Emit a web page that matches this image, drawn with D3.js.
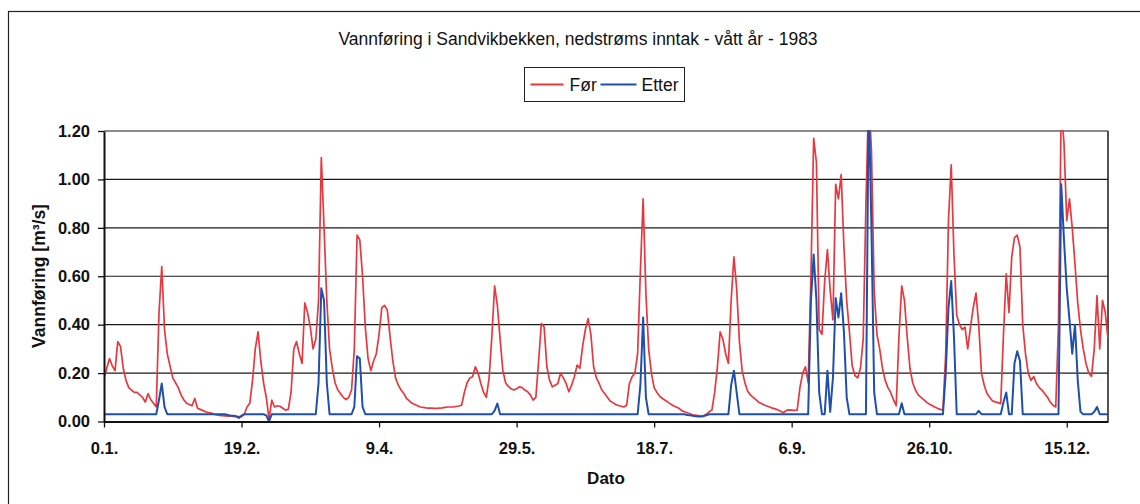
<!DOCTYPE html>
<html>
<head>
<meta charset="utf-8">
<script src="https://cdn.jsdelivr.net/npm/d3@7"></script>
<style>
  html, body { margin: 0; padding: 0; background: #fff; }
  svg { display: block; font-family: "Liberation Sans", Arial, sans-serif; }
</style>
</head>
<body>
<svg id="chart" width="1140" height="504"></svg>
<script>
const title = 'Vannføring i Sandvikbekken, nedstrøms inntak - vått år - 1983';
const seriesNames = ['Før', 'Etter'];
const yTitle = 'Vannføring [m³/s]';
const xTitle = 'Dato';
const xTickDays = [0, 50, 100, 150, 200, 250, 300, 350];
const xTickLabels = ['0.1.', '19.2.', '9.4.', '29.5.', '18.7.', '6.9.', '26.10.', '15.12.'];
const yTicks = [0, 0.2, 0.4, 0.6, 0.8, 1.0, 1.2];

// daily discharge, day 0 .. 365
const foer = [
  0.18, 0.22, 0.26, 0.23, 0.21, 0.33, 0.31, 0.22, 0.17, 0.14,
  0.13, 0.12, 0.12, 0.11, 0.10, 0.08, 0.115, 0.09, 0.075, 0.06,
  0.45, 0.64, 0.38, 0.28, 0.23, 0.18, 0.16, 0.14, 0.11, 0.09,
  0.075, 0.07, 0.065, 0.095, 0.055, 0.05, 0.045, 0.04, 0.037, 0.035,
  0.03, 0.027, 0.025, 0.024, 0.023, 0.022, 0.022, 0.021, 0.02, 0.02,
  0.02, 0.03, 0.06, 0.075, 0.17, 0.30, 0.37, 0.25, 0.16, 0.10,
  0.01, 0.088, 0.06, 0.065, 0.063, 0.055, 0.047, 0.05, 0.12, 0.30,
  0.33, 0.28, 0.24, 0.49, 0.45, 0.39, 0.30, 0.34, 0.50, 1.09,
  0.80, 0.50, 0.30, 0.22, 0.16, 0.13, 0.115, 0.10, 0.09, 0.10,
  0.13, 0.30, 0.77, 0.75, 0.60, 0.39, 0.26, 0.21, 0.25, 0.28,
  0.36, 0.47, 0.48, 0.46, 0.35, 0.25, 0.18, 0.15, 0.13, 0.116,
  0.095, 0.085, 0.075, 0.07, 0.065, 0.06, 0.058, 0.056, 0.055, 0.055,
  0.054, 0.054, 0.055, 0.056, 0.058, 0.06, 0.06, 0.06, 0.062, 0.064,
  0.067, 0.12, 0.16, 0.18, 0.185, 0.226, 0.20, 0.157, 0.12, 0.10,
  0.18, 0.35, 0.56, 0.48, 0.34, 0.21, 0.16, 0.145, 0.135, 0.13,
  0.135, 0.143, 0.14, 0.13, 0.123, 0.11, 0.088, 0.10, 0.25, 0.405,
  0.39, 0.226, 0.17, 0.143, 0.15, 0.157, 0.20, 0.18, 0.157, 0.123,
  0.15, 0.185, 0.233, 0.22, 0.31, 0.38, 0.425, 0.36, 0.226, 0.18,
  0.157, 0.13, 0.116, 0.10, 0.085, 0.078, 0.07, 0.066, 0.063, 0.06,
  0.067, 0.157, 0.185, 0.20, 0.28, 0.62, 0.92, 0.53, 0.30, 0.20,
  0.14, 0.12, 0.105, 0.095, 0.088, 0.08, 0.072, 0.065, 0.06, 0.055,
  0.045, 0.04, 0.036, 0.032, 0.028, 0.026, 0.024, 0.022, 0.025, 0.03,
  0.04, 0.047, 0.12, 0.226, 0.37, 0.34, 0.28, 0.24, 0.50, 0.68,
  0.55, 0.33, 0.21, 0.16, 0.125, 0.11, 0.10, 0.09, 0.08, 0.074,
  0.068, 0.064, 0.06, 0.055, 0.052, 0.048, 0.042, 0.036, 0.045, 0.048,
  0.047, 0.046, 0.047, 0.14, 0.20, 0.226, 0.16, 0.60, 1.17, 1.07,
  0.38, 0.36, 0.58, 0.71, 0.54, 0.42, 0.98, 0.92, 1.02, 0.72,
  0.50, 0.37, 0.23, 0.19, 0.18, 0.22, 0.34, 0.90, 1.35, 1.12,
  0.54, 0.36, 0.30, 0.22, 0.17, 0.14, 0.12, 0.09, 0.065, 0.35,
  0.56, 0.50, 0.35, 0.22, 0.16, 0.13, 0.11, 0.10, 0.09, 0.08,
  0.072, 0.066, 0.06, 0.055, 0.05, 0.047, 0.28, 0.83, 1.06, 0.69,
  0.44, 0.40, 0.38, 0.39, 0.30, 0.39, 0.47, 0.53, 0.40, 0.20,
  0.15, 0.116, 0.10, 0.085, 0.081, 0.078, 0.074, 0.36, 0.61, 0.45,
  0.68, 0.76, 0.77, 0.72, 0.40, 0.28, 0.20, 0.17, 0.186, 0.157,
  0.14, 0.13, 0.115, 0.10, 0.08, 0.067, 0.06, 0.40, 1.30, 1.15,
  0.83, 0.92, 0.80, 0.65, 0.49, 0.38, 0.30, 0.24, 0.20, 0.186,
  0.30, 0.52, 0.30, 0.50, 0.45, 0.34
];

const etter = [
  0.03, 0.03, 0.03, 0.03, 0.03, 0.03, 0.03, 0.03, 0.03, 0.03,
  0.03, 0.03, 0.03, 0.03, 0.03, 0.03, 0.03, 0.03, 0.03, 0.03,
  0.09, 0.157, 0.06, 0.03, 0.03, 0.03, 0.03, 0.03, 0.03, 0.03,
  0.03, 0.03, 0.03, 0.03, 0.03, 0.03, 0.03, 0.03, 0.03, 0.03,
  0.03, 0.03, 0.03, 0.03, 0.03, 0.027, 0.025, 0.024, 0.022, 0.015,
  0.024, 0.03, 0.03, 0.03, 0.03, 0.03, 0.03, 0.03, 0.03, 0.025,
  0.0, 0.03, 0.03, 0.03, 0.03, 0.03, 0.03, 0.03, 0.03, 0.03,
  0.03, 0.03, 0.03, 0.03, 0.03, 0.03, 0.03, 0.03, 0.16, 0.55,
  0.50, 0.16, 0.03, 0.03, 0.03, 0.03, 0.03, 0.03, 0.03, 0.03,
  0.03, 0.06, 0.27, 0.26, 0.06, 0.03, 0.03, 0.03, 0.03, 0.03,
  0.03, 0.03, 0.03, 0.03, 0.03, 0.03, 0.03, 0.03, 0.03, 0.03,
  0.03, 0.03, 0.03, 0.03, 0.03, 0.03, 0.03, 0.03, 0.03, 0.03,
  0.03, 0.03, 0.03, 0.03, 0.03, 0.03, 0.03, 0.03, 0.03, 0.03,
  0.03, 0.03, 0.03, 0.03, 0.03, 0.03, 0.03, 0.03, 0.03, 0.03,
  0.03, 0.03, 0.045, 0.074, 0.03, 0.03, 0.03, 0.03, 0.03, 0.03,
  0.03, 0.03, 0.03, 0.03, 0.03, 0.03, 0.03, 0.03, 0.03, 0.03,
  0.03, 0.03, 0.03, 0.03, 0.03, 0.03, 0.03, 0.03, 0.03, 0.03,
  0.03, 0.03, 0.03, 0.03, 0.03, 0.03, 0.03, 0.03, 0.03, 0.03,
  0.03, 0.03, 0.03, 0.03, 0.03, 0.03, 0.03, 0.03, 0.03, 0.03,
  0.03, 0.03, 0.03, 0.03, 0.03, 0.15, 0.43, 0.10, 0.03, 0.03,
  0.03, 0.03, 0.03, 0.03, 0.03, 0.03, 0.03, 0.03, 0.03, 0.03,
  0.03, 0.03, 0.027, 0.026, 0.024, 0.022, 0.021, 0.021, 0.022, 0.026,
  0.03, 0.03, 0.03, 0.03, 0.03, 0.03, 0.03, 0.03, 0.15, 0.21,
  0.12, 0.03, 0.03, 0.03, 0.03, 0.03, 0.03, 0.03, 0.03, 0.03,
  0.03, 0.03, 0.03, 0.03, 0.03, 0.03, 0.03, 0.03, 0.03, 0.03,
  0.03, 0.03, 0.03, 0.03, 0.03, 0.03, 0.03, 0.50, 0.69, 0.50,
  0.12, 0.03, 0.03, 0.21, 0.04, 0.18, 0.51, 0.43, 0.53, 0.37,
  0.10, 0.03, 0.03, 0.03, 0.03, 0.03, 0.03, 0.03, 1.35, 0.80,
  0.12, 0.03, 0.03, 0.03, 0.03, 0.03, 0.03, 0.03, 0.03, 0.03,
  0.075, 0.03, 0.03, 0.03, 0.03, 0.03, 0.03, 0.03, 0.03, 0.03,
  0.03, 0.03, 0.03, 0.03, 0.03, 0.03, 0.20, 0.47, 0.58, 0.35,
  0.03, 0.03, 0.03, 0.03, 0.03, 0.03, 0.03, 0.03, 0.044, 0.03,
  0.03, 0.03, 0.03, 0.03, 0.03, 0.03, 0.03, 0.08, 0.12, 0.03,
  0.03, 0.24, 0.29, 0.25, 0.03, 0.03, 0.03, 0.03, 0.03, 0.03,
  0.03, 0.03, 0.03, 0.03, 0.03, 0.03, 0.03, 0.03, 0.98, 0.75,
  0.55, 0.42, 0.28, 0.40, 0.17, 0.04, 0.03, 0.03, 0.03, 0.03,
  0.04, 0.06, 0.03, 0.03, 0.03, 0.03
];

const colors = ['#e8383f', '#1f4fae'];

const svg = d3.select('#chart');
const plot = { left: 104, right: 1108, top: 131, bottom: 421.5 };

const x = d3.scaleLinear().domain([0, 365]).range([plot.left, plot.right]);
const y = d3.scaleLinear().domain([0, 1.2]).range([plot.bottom, plot.top]);

// chart frame
svg.append('rect')
  .attr('x', 8.5).attr('y', 11.5)
  .attr('width', 1160).attr('height', 520)
  .attr('fill', 'none').attr('stroke', '#222').attr('stroke-width', 1.2);

svg.append('text')
  .attr('x', 578).attr('y', 45)
  .attr('text-anchor', 'middle')
  .attr('font-size', 17.5)
  .attr('fill', '#111')
  .text(title);

// gridlines
svg.append('g')
  .selectAll('line')
  .data(yTicks.filter((d) => d > 0))
  .join('line')
  .attr('x1', plot.left).attr('x2', plot.right)
  .attr('y1', (d) => y(d)).attr('y2', (d) => y(d))
  .attr('stroke', '#1a1a1a').attr('stroke-width', 1.2);

svg.append('line')
  .attr('x1', plot.right).attr('x2', plot.right)
  .attr('y1', plot.top).attr('y2', plot.bottom)
  .attr('stroke', '#1a1a1a').attr('stroke-width', 1.5);

// series
svg.append('clipPath').attr('id', 'clip')
  .append('rect')
  .attr('x', plot.left).attr('y', plot.top - 1)
  .attr('width', plot.right - plot.left).attr('height', plot.bottom - plot.top + 1);

const line = d3.line()
  .x((d, i) => x(i))
  .y((d) => y(d));

[foer, etter].forEach((values, k) => {
  svg.append('path')
    .datum(values)
    .attr('clip-path', 'url(#clip)')
    .attr('fill', 'none')
    .attr('stroke', colors[k])
    .attr('stroke-width', k === 0 ? 1.7 : 2)
    .attr('stroke-linejoin', 'round')
    .attr('d', line);
});

// axes
const yAxis = svg.append('g')
  .attr('transform', `translate(${plot.left},0)`)
  .call(d3.axisLeft(y).tickValues(yTicks).tickFormat(d3.format('.2f')).tickSize(6).tickSizeOuter(0).tickPadding(8));

const xAxis = svg.append('g')
  .attr('transform', `translate(0,${plot.bottom})`)
  .call(d3.axisBottom(x).tickValues(xTickDays).tickFormat((d, i) => xTickLabels[i]).tickSize(6).tickSizeOuter(0).tickPadding(15));

[yAxis, xAxis].forEach((g) => {
  g.select('.domain').attr('stroke', '#111').attr('stroke-width', 2);
  g.selectAll('.tick line').attr('stroke', '#111').attr('stroke-width', 1.3);
  g.selectAll('.tick text')
    .attr('font-family', '"Liberation Sans", Arial, sans-serif')
    .attr('font-size', 16.5)
    .attr('font-weight', 'bold')
    .attr('fill', '#111');
});

svg.append('text')
  .attr('transform', 'translate(45,276) rotate(-90)')
  .attr('text-anchor', 'middle')
  .attr('font-size', 17.5)
  .attr('font-weight', 'bold')
  .attr('fill', '#111')
  .text(yTitle);

svg.append('text')
  .attr('x', 606).attr('y', 484)
  .attr('text-anchor', 'middle')
  .attr('font-size', 17)
  .attr('font-weight', 'bold')
  .attr('fill', '#111')
  .text(xTitle);

// legend
const legend = svg.append('g').attr('transform', 'translate(524.5,67.5)');
legend.append('rect')
  .attr('width', 160).attr('height', 34)
  .attr('fill', '#fff').attr('stroke', '#222').attr('stroke-width', 1);

const legendItems = [
  { x: 6, w: 33, tx: 45 },
  { x: 76, w: 36, tx: 117 }
];
legendItems.forEach((it, k) => {
  legend.append('line')
    .attr('x1', it.x).attr('x2', it.x + it.w)
    .attr('y1', 17).attr('y2', 17)
    .attr('stroke', colors[k]).attr('stroke-width', 2);
  legend.append('text')
    .attr('x', it.tx).attr('y', 23)
    .attr('font-size', 17.5)
    .attr('fill', '#111')
    .text(seriesNames[k]);
});
</script>
</body>
</html>
